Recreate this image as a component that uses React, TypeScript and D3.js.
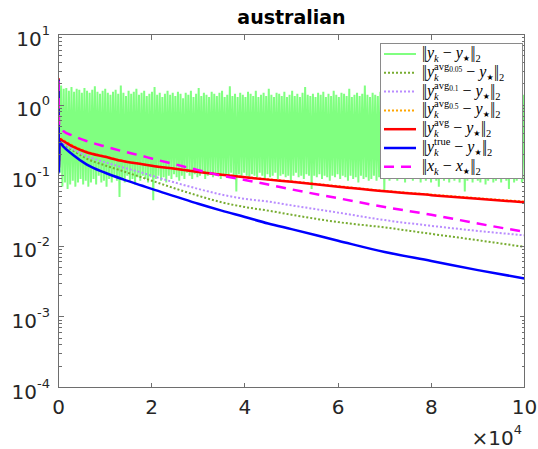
import React from "react";
import * as d3 from "d3";

// iteration grid shared by the smooth curves
const iters = [0, 100, 200, 1000, 3000, 6000, 10000, 14000, 18000, 20000, 25000, 30000, 35000, 40000, 45000, 50000, 60000, 70000, 80000, 90000, 100000];

const avg005 = [2.3, 0.12, 0.31, 0.28, 0.23, 0.175, 0.14, 0.115, 0.094, 0.085, 0.066, 0.052, 0.042, 0.036, 0.032, 0.028, 0.022, 0.0185, 0.015, 0.0122, 0.0098];
const avg01 = [2.3, 0.12, 0.31, 0.29, 0.24, 0.19, 0.155, 0.13, 0.11, 0.1, 0.08, 0.065, 0.054, 0.047, 0.043, 0.038, 0.03, 0.0235, 0.0195, 0.0165, 0.0143];
const avg05 = [2.4, 0.13, 0.34, 0.32, 0.27, 0.22, 0.188, 0.162, 0.146, 0.139, 0.126, 0.114, 0.104, 0.096, 0.089, 0.083, 0.071, 0.061, 0.054, 0.048, 0.043];
const avgAll = [2.4, 0.13, 0.33, 0.31, 0.26, 0.215, 0.185, 0.16, 0.145, 0.138, 0.125, 0.113, 0.103, 0.095, 0.088, 0.082, 0.07, 0.06, 0.053, 0.047, 0.042];
const trueY = [2.3, 0.11, 0.3, 0.26, 0.2, 0.145, 0.11, 0.088, 0.072, 0.065, 0.051, 0.04, 0.032, 0.026, 0.021, 0.0175, 0.012, 0.0083, 0.0062, 0.0046, 0.0035];
const xErr = [2.2, 0.6, 0.5, 0.43, 0.37, 0.31, 0.26, 0.22, 0.19, 0.175, 0.145, 0.12, 0.1, 0.087, 0.075, 0.064, 0.048, 0.036, 0.028, 0.021, 0.016];

// the noisy ||y_k - y*|| trace: alternating highs and lows
const greenPeaks = [
  2.4, 1.9, 1.7, 1.75, 1.6, 1.8, 1.55, 1.7, 1.65, 1.5,
  1.75, 1.6, 1.5, 1.65, 1.85, 1.55, 1.45, 1.6, 1.7, 1.5,
  1.4, 1.55, 1.65, 1.45, 1.9, 1.5, 1.35, 1.6, 1.45, 1.55,
  1.7, 1.4, 1.5, 1.6, 1.35, 1.45, 1.55, 1.8, 1.4, 1.5,
  1.3, 1.45, 1.6, 1.4, 1.5, 1.35, 1.55, 1.45, 1.25, 1.5,
  1.4, 1.6, 1.3, 1.45, 1.75, 1.35, 1.5, 1.4, 1.3, 1.55,
  1.45, 1.35, 1.5, 1.6, 1.3, 1.4, 1.85, 1.35, 1.45, 1.3,
  1.5, 1.4, 1.3, 1.55, 1.45, 1.35, 1.6, 1.3, 1.4, 1.5,
  1.35, 1.7, 1.4, 1.3, 1.5, 1.45, 1.35, 1.55, 1.3, 1.4,
  1.6, 1.35, 1.45, 1.3, 1.5, 1.8, 1.4, 1.35, 1.45, 1.3,
  1.5, 1.4, 1.55, 1.3, 1.45, 1.35, 1.6, 1.4, 1.3, 1.5,
  1.45, 1.35, 1.7, 1.3, 1.4, 1.5, 1.35, 1.45, 1.9, 1.4,
  1.3, 1.5, 1.4, 1.35, 1.55, 1.3, 1.45, 1.4, 1.6, 1.35,
  1.45, 1.3, 1.5, 1.4, 1.75, 1.35, 1.45, 1.3, 1.5, 1.4,
  1.35, 1.55, 1.3, 1.45, 1.4, 1.6, 1.35, 1.5, 1.3, 1.45,
  1.85, 1.4, 1.35, 1.5, 1.3, 1.45, 1.4, 1.55, 1.35, 1.3,
  1.5, 1.4, 1.6, 1.35, 1.45, 1.3, 1.7, 1.4, 1.5, 1.35,
  1.45, 1.3, 1.55, 1.4, 1.35, 1.6, 1.45, 1.3, 1.5, 1.4,
];
const greenLows = [
  0.11, 0.07, 0.08, 0.065, 0.075, 0.085, 0.07, 0.08, 0.09, 0.075,
  0.085, 0.07, 0.08, 0.09, 0.075, 0.1, 0.08, 0.085, 0.07, 0.09,
  0.08, 0.095, 0.085, 0.05, 0.09, 0.08, 0.1, 0.085, 0.09, 0.075,
  0.095, 0.085, 0.1, 0.09, 0.08, 0.095, 0.045, 0.09, 0.1, 0.085,
  0.095, 0.08, 0.1, 0.09, 0.105, 0.095, 0.085, 0.1, 0.09, 0.11,
  0.1, 0.09, 0.105, 0.095, 0.1, 0.11, 0.09, 0.1, 0.105, 0.095,
  0.11, 0.1, 0.09, 0.105, 0.1, 0.095, 0.11, 0.1, 0.06, 0.105,
  0.095, 0.11, 0.1, 0.09, 0.105, 0.1, 0.095, 0.11, 0.1, 0.09,
  0.105, 0.095, 0.1, 0.11, 0.09, 0.1, 0.105, 0.095, 0.1, 0.085,
  0.1, 0.11, 0.095, 0.1, 0.09, 0.105, 0.1, 0.065, 0.1, 0.095,
  0.105, 0.09, 0.1, 0.095, 0.085, 0.1, 0.095, 0.105, 0.09, 0.1,
  0.095, 0.085, 0.1, 0.09, 0.095, 0.08, 0.1, 0.09, 0.095, 0.085,
  0.09, 0.1, 0.085, 0.095, 0.09, 0.06, 0.095, 0.085, 0.1, 0.09,
  0.085, 0.095, 0.09, 0.08, 0.095, 0.09, 0.085, 0.1, 0.09, 0.08,
  0.09, 0.085, 0.095, 0.08, 0.09, 0.085, 0.07, 0.09, 0.085, 0.095,
  0.08, 0.09, 0.085, 0.095, 0.08, 0.09, 0.06, 0.085, 0.09, 0.08,
  0.09, 0.085, 0.08, 0.09, 0.075, 0.085, 0.09, 0.08, 0.085, 0.09,
  0.08, 0.09, 0.085, 0.065, 0.09, 0.08, 0.085, 0.09, 0.08, 0.085,
];

const xTicks = [0, 20000, 40000, 60000, 80000, 100000];
const xTickLabels = ["0", "2", "4", "6", "8", "10"];
const yExps = [-4, -3, -2, -1, 0, 1];

const W = 538;
const H = 449;
const left = 58.5, right = 524.5, top = 34.5, bottom = 387.5;

const x = d3.scaleLinear().domain([0, 100000]).range([left, right]);
const y = d3.scaleLog().domain([1e-4, 10]).range([bottom, top]);

const smooth = d3
  .line<number>()
  .x((_, i) => x(iters[i]))
  .y((d) => y(d))
  .curve(d3.curveMonotoneX);

const greenVals: number[] = [];
greenPeaks.forEach((p, i) => {
  greenVals.push(p);
  greenVals.push(greenLows[i]);
});
const greenLine = d3
  .line<number>()
  .x((_, i) => x((i * 100000) / (greenVals.length - 1)))
  .y((d) => y(d));

const series = [
  { key: "avg005", vals: avg005, color: "#77ac30", width: 2, dash: "2,2" },
  { key: "avg01", vals: avg01, color: "#b98cff", width: 2, dash: "2,2" },
  { key: "avg05", vals: avg05, color: "#ffa500", width: 2, dash: "2,2" },
  { key: "avg", vals: avgAll, color: "#ff0000", width: 2.5, dash: null },
  { key: "true", vals: trueY, color: "#0000ff", width: 2.5, dash: null },
  { key: "x", vals: xErr, color: "#ff00ff", width: 2.5, dash: "10,7" },
];

const legendItems = [
  { v: "y", sup: null, supSub: null, color: "#80ff80", width: 2, dash: null },
  { v: "y", sup: "avg", supSub: "0.05", color: "#77ac30", width: 2, dash: "2,2" },
  { v: "y", sup: "avg", supSub: "0.1", color: "#b98cff", width: 2, dash: "2,2" },
  { v: "y", sup: "avg", supSub: "0.5", color: "#ffa500", width: 2, dash: "2,2" },
  { v: "y", sup: "avg", supSub: null, color: "#ff0000", width: 2.5, dash: null },
  { v: "y", sup: "true", supSub: null, color: "#0000ff", width: 2.5, dash: null },
  { v: "x", sup: null, supSub: null, color: "#ff00ff", width: 2.5, dash: "10,7" },
];

const axisColor = "#6e6e6e";
const textColor = "#262626";

function MathLabel({ tx, ty, v, sup, supSub }: { tx: number; ty: number; v: string; sup: string | null; supSub: string | null }) {
  const cur = sup ? (supSub ? -5 : -7) : 4;
  return (
    <text x={tx} y={ty} fontFamily="Liberation Serif, DejaVu Serif, serif" fontSize={16} fill="#000">
      <tspan letterSpacing={-1.5}>||</tspan>
      <tspan dx={1.5} fontStyle="italic">{v}</tspan>
      <tspan fontSize={10.5} fontStyle="italic" dy={4}>k</tspan>
      {sup && (
        <tspan fontSize={10.5} dx={-4.7} dy={-11}>{sup}</tspan>
      )}
      {sup && supSub && (
        <tspan fontSize={7.5} dy={2}>{supSub}</tspan>
      )}
      <tspan dx={4} dy={-cur}>−</tspan>
      <tspan dx={4} fontStyle="italic">{v}</tspan>
      <tspan fontSize={8} fontFamily="DejaVu Sans, sans-serif" dy={3}>★</tspan>
      <tspan dx={0.5} dy={-3} letterSpacing={-1.5}>||</tspan>
      <tspan dx={1.5} fontSize={10.5} dy={4}>2</tspan>
    </text>
  );
}

export default function App() {
  const minor: number[] = [];
  for (let e = -4; e < 1; e++) {
    for (let m = 2; m <= 9; m++) minor.push(m * Math.pow(10, e));
  }
  const lgX = 380, lgY = 43, lgW = 142, lgH = 135;

  return (
    <svg width={W} height={H} style={{ position: "absolute", left: 0, top: 0, background: "#fff" }} fontFamily="DejaVu Sans, sans-serif">
      <defs>
        <clipPath id="plotClip">
          <rect x={left} y={top} width={right - left} height={bottom - top} />
        </clipPath>
      </defs>

      <text x={(left + right) / 2} y={24} textAnchor="middle" fontSize={19} fontWeight="bold" fill="#000">
        australian
      </text>

      <g clipPath="url(#plotClip)">
        <path d={greenLine(greenVals) || ""} fill="none" stroke="#80ff80" strokeWidth={2} />
        {series.map((s) => (
          <path
            key={s.key}
            d={smooth(s.vals) || ""}
            fill="none"
            stroke={s.color}
            strokeWidth={s.width}
            strokeDasharray={s.dash || undefined}
          />
        ))}
      </g>

      {/* axes box */}
      <g stroke={axisColor} strokeWidth={1} shapeRendering="crispEdges" fill="none">
        <rect x={left} y={top} width={right - left} height={bottom - top} />
        {xTicks.map((t) => (
          <g key={"xt" + t}>
            <line x1={x(t)} x2={x(t)} y1={bottom} y2={bottom - 5} />
            <line x1={x(t)} x2={x(t)} y1={top} y2={top + 5} />
          </g>
        ))}
        {yExps.map((e) => (
          <g key={"yt" + e}>
            <line x1={left} x2={left + 5} y1={y(Math.pow(10, e))} y2={y(Math.pow(10, e))} />
            <line x1={right} x2={right - 5} y1={y(Math.pow(10, e))} y2={y(Math.pow(10, e))} />
          </g>
        ))}
        {minor.map((m) => (
          <g key={"ym" + m}>
            <line x1={left} x2={left + 3} y1={y(m)} y2={y(m)} />
            <line x1={right} x2={right - 3} y1={y(m)} y2={y(m)} />
          </g>
        ))}
      </g>

      {xTicks.map((t, i) => (
        <text key={"xl" + t} x={x(t)} y={bottom + 26} textAnchor="middle" fontSize={20} fill={textColor}>
          {xTickLabels[i]}
        </text>
      ))}
      <text x={522} y={445} textAnchor="end" fontSize={20} fill={textColor}>
        <tspan>×10</tspan>
        <tspan fontSize={13} dy={-11}>4</tspan>
      </text>

      {yExps.map((e) => (
        <text key={"yl" + e} x={50} y={y(Math.pow(10, e)) + 11} textAnchor="end" fontSize={20} fill={textColor}>
          <tspan>10</tspan>
          <tspan fontSize={13} dy={-11}>{String(e)}</tspan>
        </text>
      ))}

      {/* legend */}
      <rect x={lgX} y={lgY} width={lgW} height={lgH} fill="#fff" stroke="#8a8a8a" strokeWidth={1} shapeRendering="crispEdges" />
      {legendItems.map((it, i) => {
        const cy = lgY + 11 + i * 18.8;
        return (
          <g key={"lg" + i}>
            <line x1={384} x2={416} y1={cy} y2={cy} stroke={it.color} strokeWidth={it.width} strokeDasharray={it.dash || undefined} />
            <MathLabel tx={422} ty={cy + 4} v={it.v} sup={it.sup} supSub={it.supSub} />
          </g>
        );
      })}
    </svg>
  );
}
